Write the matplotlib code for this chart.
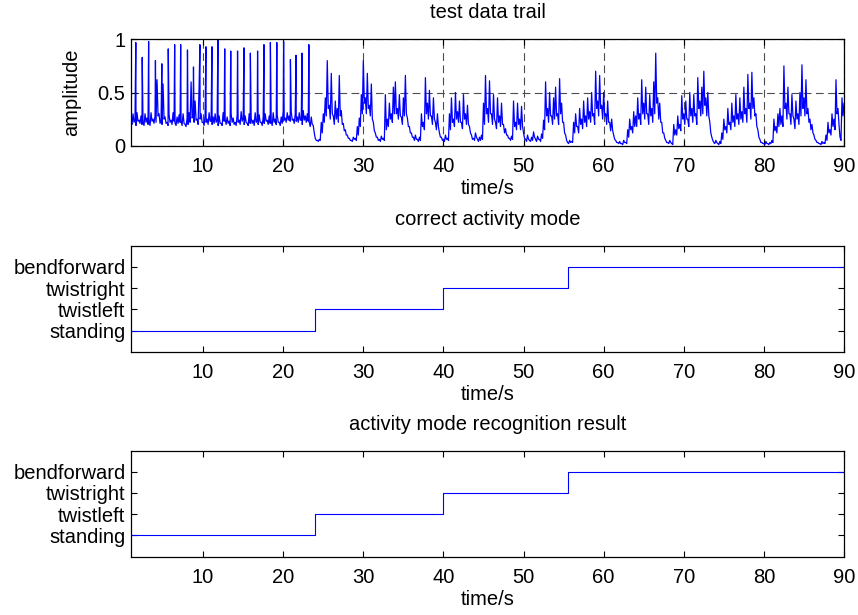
import numpy as np
import matplotlib
matplotlib.use('Agg')
import matplotlib.pyplot as plt

plt.rcParams['font.family'] = ['Liberation Sans', 'DejaVu Sans']

# ---------------- data ----------------
sample_start = 1.0
sample_step = 0.25
# upper readings of the amplitude (every 0.25 s from t = 1.0 s to t = 90.0 s)
amp_part1 = [
    0.22, 0.30, 0.25, 0.31,  0.24, 0.28, 0.22, 0.30,  0.26, 0.23, 0.31, 0.25,
    0.28, 0.62, 0.30, 0.24,  0.58, 0.27, 0.22, 0.29,  0.24, 0.31, 0.21, 0.27,
    0.29, 0.23, 0.30, 0.20,  0.26, 0.31, 0.60, 0.28,  0.42, 0.25, 0.55, 0.30,
    0.22, 0.29, 0.25, 0.31,  0.23, 0.27, 0.30, 0.24,  0.28, 0.21, 0.31, 0.25,
    0.27, 0.23, 0.30, 0.26,  0.22, 0.29, 0.24, 0.32,  0.25, 0.28, 0.21, 0.30,
    0.26, 0.24, 0.31, 0.23,  0.29, 0.22, 0.27, 0.30,  0.24, 0.28, 0.23, 0.31,
    0.25, 0.29, 0.22, 0.27,  0.33, 0.26, 0.31, 0.28,  0.32, 0.25, 0.30, 0.27,
    0.31, 0.24, 0.33, 0.28,  0.30, 0.22, 0.27, 0.19,
]
amp_part2 = [
    0.07, 0.05, 0.06, 0.22,  0.30, 0.45, 0.80, 0.38,  0.68, 0.28, 0.42, 0.35,
    0.66, 0.33, 0.21, 0.15,  0.10, 0.07, 0.05, 0.08,  0.07, 0.18, 0.26, 0.48,
    0.80, 0.45, 0.68, 0.38,  0.58, 0.22, 0.12, 0.08,  0.06, 0.09, 0.07, 0.48,
    0.25, 0.40, 0.30, 0.55,  0.60, 0.35, 0.48, 0.27,  0.45, 0.66, 0.26, 0.18,
    0.12, 0.08, 0.10, 0.06,  0.08, 0.30, 0.22, 0.64,  0.40, 0.52, 0.28, 0.45,
    0.22, 0.30, 0.12, 0.08,  0.06, 0.10, 0.07, 0.30,  0.45, 0.25, 0.50, 0.32,
    0.42, 0.22, 0.48, 0.30,  0.38, 0.18, 0.10, 0.07,  0.12, 0.06, 0.08, 0.10,
    0.40, 0.66, 0.35, 0.61,  0.30, 0.48, 0.22, 0.45,  0.28, 0.40, 0.20, 0.16,
    0.10, 0.07, 0.09, 0.42,  0.22, 0.40, 0.25, 0.37,  0.12, 0.06, 0.10, 0.05,
    0.08, 0.13, 0.06, 0.09,  0.06, 0.11, 0.24, 0.60,  0.35, 0.50, 0.28, 0.45,
    0.55, 0.30, 0.63, 0.40,  0.22, 0.10, 0.03, 0.05,  0.04, 0.22, 0.30, 0.18,
    0.35, 0.25, 0.42, 0.28,  0.45, 0.32, 0.50, 0.30,  0.70, 0.42, 0.66, 0.38,
    0.50, 0.30, 0.42, 0.22,  0.25, 0.10, 0.05, 0.03,  0.04, 0.02, 0.05, 0.03,
    0.15, 0.25, 0.18, 0.32,  0.28, 0.45, 0.30, 0.62,  0.40, 0.55, 0.30, 0.48,
    0.35, 0.60, 0.87, 0.45,  0.40, 0.22, 0.12, 0.05,  0.03, 0.05, 0.02, 0.20,
    0.15, 0.28, 0.20, 0.47,  0.30, 0.42, 0.25, 0.50,  0.35, 0.48, 0.30, 0.64,
    0.42, 0.55, 0.70, 0.45,  0.50, 0.22, 0.08, 0.03,  0.05, 0.02, 0.04, 0.12,
    0.25, 0.18, 0.35, 0.22,  0.40, 0.28, 0.48, 0.30,  0.45, 0.32, 0.55, 0.35,
    0.67, 0.40, 0.69, 0.45,  0.30, 0.15, 0.06, 0.03,  0.02, 0.04, 0.02, 0.03,
    0.05, 0.25, 0.18, 0.30,  0.35, 0.28, 0.75, 0.40,  0.55, 0.30, 0.48, 0.25,
    0.42, 0.30, 0.50, 0.76,  0.45, 0.62, 0.35, 0.25,  0.20, 0.10, 0.05, 0.03,
    0.02, 0.04, 0.03, 0.10,  0.22, 0.15, 0.30, 0.25,  0.62, 0.35, 0.08, 0.45,
    0.40,
]
# lower readings, half a step later (the dense band's bottom edge)
low_part1 = [
    0.20, 0.22, 0.19, 0.23,  0.21, 0.20, 0.19, 0.22,  0.20, 0.19, 0.23, 0.21,
    0.22, 0.28, 0.21, 0.20,  0.25, 0.21, 0.19, 0.22,  0.20, 0.23, 0.19, 0.21,
    0.22, 0.19, 0.21, 0.18,  0.20, 0.22, 0.26, 0.22,  0.24, 0.20, 0.25, 0.22,
    0.19, 0.22, 0.20, 0.23,  0.20, 0.21, 0.22, 0.19,  0.21, 0.19, 0.23, 0.20,
    0.21, 0.19, 0.22, 0.20,  0.19, 0.22, 0.20, 0.23,  0.20, 0.22, 0.19, 0.21,
    0.21, 0.19, 0.22, 0.20,  0.22, 0.19, 0.21, 0.23,  0.20, 0.21, 0.19, 0.22,
    0.20, 0.22, 0.19, 0.21,  0.24, 0.22, 0.24, 0.23,  0.24, 0.21, 0.23, 0.22,
    0.24, 0.20, 0.24, 0.22,  0.23, 0.18, 0.20, 0.12,
]
low_part2 = [
    0.05, 0.04, 0.05, 0.12,  0.22, 0.28, 0.35, 0.25,  0.30, 0.20, 0.25, 0.22,
    0.28, 0.20, 0.14, 0.10,  0.07, 0.05, 0.04, 0.06,  0.05, 0.10, 0.18, 0.30,
    0.40, 0.30, 0.35, 0.28,  0.25, 0.14, 0.08, 0.05,  0.04, 0.06, 0.05, 0.15,
    0.18, 0.25, 0.22, 0.30,  0.30, 0.25, 0.28, 0.20,  0.28, 0.30, 0.18, 0.12,
    0.08, 0.05, 0.06, 0.04,  0.05, 0.18, 0.15, 0.30,  0.25, 0.28, 0.20, 0.25,
    0.15, 0.18, 0.08, 0.05,  0.04, 0.06, 0.05, 0.15,  0.22, 0.18, 0.25, 0.22,
    0.22, 0.16, 0.25, 0.20,  0.20, 0.12, 0.06, 0.05,  0.08, 0.04, 0.05, 0.06,
    0.20, 0.30, 0.22, 0.30,  0.20, 0.25, 0.16, 0.22,  0.18, 0.20, 0.12, 0.10,
    0.07, 0.05, 0.06, 0.18,  0.15, 0.20, 0.15, 0.18,  0.07, 0.04, 0.06, 0.04,
    0.05, 0.08, 0.04, 0.06,  0.04, 0.07, 0.15, 0.28,  0.22, 0.28, 0.20, 0.25,
    0.28, 0.20, 0.30, 0.22,  0.12, 0.05, 0.02, 0.03,  0.03, 0.12, 0.18, 0.12,
    0.20, 0.16, 0.22, 0.18,  0.25, 0.22, 0.28, 0.20,  0.35, 0.28, 0.35, 0.25,
    0.28, 0.20, 0.22, 0.14,  0.14, 0.06, 0.03, 0.02,  0.02, 0.01, 0.03, 0.02,
    0.08, 0.15, 0.12, 0.18,  0.18, 0.25, 0.20, 0.30,  0.25, 0.30, 0.20, 0.28,
    0.22, 0.30, 0.40, 0.25,  0.22, 0.12, 0.07, 0.03,  0.02, 0.03, 0.01, 0.10,
    0.10, 0.16, 0.14, 0.25,  0.20, 0.25, 0.18, 0.28,  0.22, 0.28, 0.20, 0.35,
    0.28, 0.30, 0.38, 0.28,  0.28, 0.12, 0.05, 0.02,  0.03, 0.01, 0.02, 0.06,
    0.15, 0.12, 0.20, 0.15,  0.22, 0.18, 0.25, 0.20,  0.25, 0.22, 0.30, 0.22,
    0.35, 0.25, 0.35, 0.28,  0.18, 0.08, 0.03, 0.02,  0.01, 0.02, 0.01, 0.02,
    0.03, 0.14, 0.12, 0.18,  0.20, 0.18, 0.35, 0.25,  0.30, 0.20, 0.28, 0.16,
    0.25, 0.20, 0.28, 0.35,  0.28, 0.30, 0.22, 0.15,  0.12, 0.06, 0.03, 0.02,
    0.01, 0.02, 0.02, 0.05,  0.12, 0.10, 0.18, 0.15,  0.30, 0.20, 0.05, 0.28,
    0.30,
]
# narrow spikes during the standing phase
spike_times = [1.6, 2.4, 3.2, 4.05, 4.85, 5.65, 6.45, 7.2, 8.05, 8.8, 9.6, 10.35,
               11.1, 11.85, 12.7, 13.45, 14.3, 15.1, 15.9, 16.8, 17.6, 18.4,
               19.2, 20.05, 20.9, 21.6, 22.35, 23.2]
spike_heights = [0.97, 0.83, 0.98, 0.80, 0.77, 0.91, 0.95, 0.95, 0.90, 0.74, 0.95, 0.93,
                 0.93, 1.00, 0.91, 0.89, 0.89, 0.92, 0.87, 0.89, 0.95, 0.97,
                 0.97, 0.98, 0.81, 0.85, 0.87, 0.95]

mode_names = ['standing', 'twistleft', 'twistright', 'bendforward']
correct_times = [1, 24, 40, 55.5, 90]
correct_levels = [1, 2, 3, 4, 4]
result_times = [1, 24, 40, 55.5, 90]
result_levels = [1, 2, 3, 4, 4]

x_ticks = [10, 20, 30, 40, 50, 60, 70, 80, 90]

# ---------------- build signal ----------------
amp_hi = np.array(amp_part1 + amp_part2)
amp_lo = np.array(low_part1 + low_part2)
t_hi = sample_start + sample_step * np.arange(len(amp_hi))
t_lo = t_hi[:len(amp_lo)] + sample_step / 2
t_all = np.concatenate([t_hi, t_lo, np.array(spike_times)])
a_all = np.concatenate([amp_hi, amp_lo, np.array(spike_heights)])
order = np.argsort(t_all, kind='stable')
t_all = t_all[order]
a_all = a_all[order]

# ---------------- figure ----------------
FS = 14.5
W, H = 858, 615
fig = plt.figure(figsize=(W / 100, H / 100), dpi=100)
left = 131 / W
width = 713 / W
ax1 = fig.add_axes([left, (H - 145.7) / H, width, 106.4 / H])
ax2 = fig.add_axes([left, (H - 351.7) / H, width, 106.0 / H])
ax3 = fig.add_axes([left, (H - 556.7) / H, width, 106.2 / H])

def style(ax):
    for s in ax.spines.values():
        s.set_linewidth(0.9)
        s.set_color('black')
    ax.tick_params(direction='in', length=4, width=0.8, top=True, right=True,
                   labelsize=FS)
    ax.tick_params(axis='x', pad=8)
    ax.tick_params(axis='y', pad=4)
    ax.set_xlim(1, 90)
    ax.set_xticks(x_ticks)
    ax.set_xlabel('time/s', fontsize=FS, labelpad=2)

ax1.plot(t_all, a_all, color=(0, 0, 1), lw=0.9)
style(ax1)
ax1.set_ylim(0, 1)
ax1.set_yticks([0, 0.5, 1])
ax1.set_yticklabels(['0', '0.5', '1'])
ax1.grid(True, color='0.3', linestyle=(0, (7, 4)), linewidth=0.8)
ax1.set_axisbelow(True)
ax1.set_ylabel('amplitude', fontsize=FS)
ax1.yaxis.set_label_coords(-0.07, 0.5)
ax1.set_title('test data trail', fontsize=FS, pad=15)

for ax, tt, lv, title in [(ax2, correct_times, correct_levels, 'correct activity mode'),
                          (ax3, result_times, result_levels, 'activity mode recognition result')]:
    ax.step(tt, lv, where='post', color=(0, 0, 1), lw=0.8)
    style(ax)
    ax.set_ylim(0, 5)
    ax.set_yticks([1, 2, 3, 4])
    ax.set_yticklabels(mode_names)
    ax.set_title(title, fontsize=FS, pad=15)

fig.savefig('out.png', dpi=100)
